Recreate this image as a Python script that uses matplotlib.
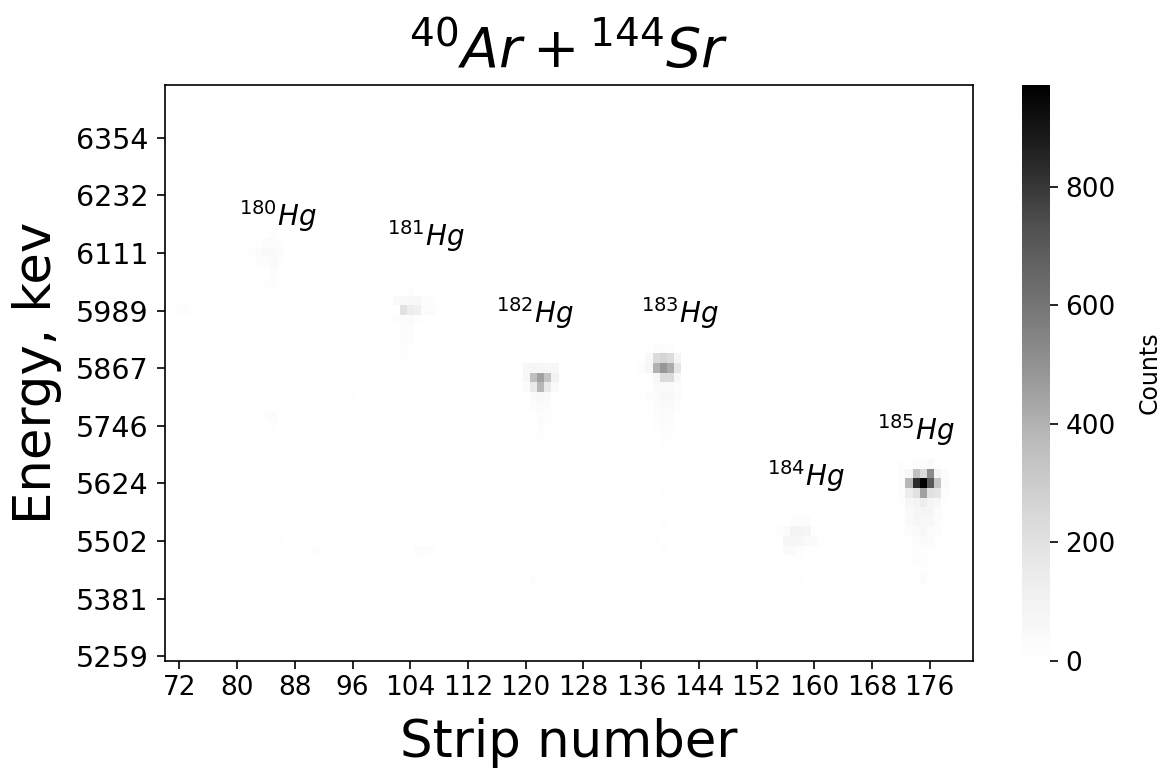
import numpy as np
import matplotlib
matplotlib.use("Agg")
import matplotlib.pyplot as plt

# ---------------- data ----------------
strips = list(range(70, 183))            # strip numbers (columns)
n_rows = 60                              # energy bins
energy_tick_rows = [0, 6, 12, 18, 24, 30, 36, 42, 48, 54]
energy_tick_labels = ["5259", "5381", "5502", "5624", "5746",
                      "5867", "5989", "6111", "6232", "6354"]
strip_ticks = [72, 80, 88, 96, 104, 112, 120, 128, 136, 144, 152, 160, 168, 176]

# blob patches: (first strip, top row, rows of counts from top row downward)
hg180_patch = (82, 44, [
    [0, 0, 0, 15, 0],
    [0, 10, 20, 25, 15],
    [15, 30, 45, 35, 20],
    [0, 15, 20, 40, 15],
    [0, 0, 0, 25, 0],
    [0, 0, 10, 15, 0],
    [0, 0, 10, 10, 0],
])
hg181_patch = (101, 38, [
    [0, 0, 0, 15, 0, 0, 0],
    [0, 40, 40, 50, 50, 20, 15],
    [0, 0, 200, 140, 120, 30, 20],
    [0, 15, 30, 30, 15, 0, 0],
    [0, 0, 20, 20, 0, 0, 0],
    [0, 0, 20, 20, 0, 0, 0],
    [0, 0, 15, 0, 0, 0, 0],
    [0, 0, 10, 10, 0, 0, 0],
    [0, 0, 0, 10, 0, 0, 0],
])
hg182_patch = (120, 31, [
    [0, 0, 10, 0, 0],
    [60, 70, 60, 60, 60],
    [60, 350, 450, 330, 100],
    [30, 150, 380, 150, 40],
    [0, 40, 50, 40, 0],
    [0, 25, 30, 20, 0],
    [0, 0, 20, 15, 0],
    [0, 0, 20, 10, 0],
    [0, 0, 15, 0, 0],
    [0, 0, 10, 0, 0],
    [0, 0, 10, 0, 0],
])
hg183_patch = (136, 32, [
    [0, 0, 20, 20, 15, 0, 0],
    [0, 50, 230, 260, 230, 80, 0],
    [20, 70, 400, 480, 420, 180, 0],
    [0, 0, 60, 230, 230, 60, 0],
    [0, 0, 40, 40, 40, 20, 0],
    [0, 20, 30, 50, 55, 30, 0],
    [0, 0, 25, 35, 30, 15, 0],
    [0, 0, 20, 30, 20, 0, 0],
    [0, 0, 15, 20, 15, 0, 0],
    [0, 0, 0, 15, 10, 0, 0],
    [0, 0, 0, 10, 10, 0, 0],
])
hg184_patch = (155, 14, [
    [0, 0, 20, 25, 20, 0, 0],
    [15, 30, 90, 90, 70, 10, 0],
    [0, 60, 70, 60, 40, 30, 10],
    [0, 40, 40, 15, 10, 10, 0],
    [0, 0, 10, 10, 0, 0, 0],
])
hg185_patch = (171, 20, [
    [0, 15, 10, 25, 25, 40, 10, 0],
    [0, 20, 60, 350, 230, 520, 90, 20],
    [0, 25, 380, 830, 972, 700, 330, 30],
    [0, 20, 140, 200, 450, 200, 180, 20],
    [0, 10, 60, 90, 130, 80, 60, 10],
    [0, 10, 40, 70, 80, 80, 30, 5],
    [0, 5, 40, 60, 60, 60, 20, 5],
    [0, 5, 20, 30, 50, 30, 20, 0],
    [0, 5, 10, 20, 30, 20, 10, 0],
    [0, 0, 10, 15, 15, 10, 0, 0],
    [0, 0, 0, 10, 15, 10, 0, 0],
    [0, 0, 0, 10, 10, 0, 0, 0],
    [0, 0, 0, 0, 10, 0, 0, 0],
])
# scattered faint counts: (strip, row, counts)
faint_cells = [
    (72, 36, 12), (73, 36, 15), (71, 37, 10), (80, 36, 8), (88, 36, 8),
    (84, 25, 15), (85, 25, 20), (85, 24, 15), (84, 23, 10), (85, 22, 10),
    (72, 12, 10), (89, 12, 10), (91, 11, 12), (104, 12, 10), (105, 11, 20),
    (106, 11, 20), (107, 11, 15), (103, 11, 10), (80, 8, 8), (81, 4, 8),
    (121, 8, 12), (122, 7, 10), (122, 10, 8), (139, 17, 10), (139, 14, 12),
    (138, 12, 10), (139, 11, 12), (140, 9, 8), (139, 5, 10), (140, 3, 8),
    (174, 10, 10), (175, 8, 10), (174, 6, 8), (175, 5, 8), (175, 3, 8),
    (158, 8, 8), (158, 4, 8), (151, 36, 8), (165, 36, 8), (169, 35, 10),
    (173, 32, 8), (110, 28, 8), (96, 27, 5), (86, 12, 8), (94, 4, 6),
    (132, 4, 6), (148, 6, 6),
]
hg_labels = ["$^{180}Hg$", "$^{181}Hg$", "$^{182}Hg$",
             "$^{183}Hg$", "$^{184}Hg$", "$^{185}Hg$"]

# ---------------- build matrix ----------------
counts = np.zeros((n_rows, len(strips)))
for s0, top, rows in [hg180_patch, hg181_patch, hg182_patch,
                      hg183_patch, hg184_patch, hg185_patch]:
    for k, row in enumerate(rows):
        for m, v in enumerate(row):
            counts[top - k, strips.index(s0 + m)] += v
for s, r, v in faint_cells:
    counts[r, strips.index(s)] += v

# ---------------- plot ----------------
W, H = 1167, 773
fig = plt.figure(figsize=(W / 100, H / 100), dpi=100)
ax = fig.add_axes([165 / W, 1 - 661 / H, (973 - 165) / W, (661 - 85) / H])
cax = fig.add_axes([1022 / W, 1 - 661 / H, 28 / W, (661 - 85) / H])

im = ax.imshow(counts, origin="lower", cmap="Greys", vmin=0, vmax=972,
               aspect="auto", interpolation="nearest",
               extent=[strips[0] - 0.5, strips[-1] + 0.5, -0.5, n_rows - 0.5])
ax.set_xlim(70.0, 182.0)

ax.set_xticks(strip_ticks)
ax.set_xticklabels([str(t) for t in strip_ticks])
ax.set_yticks(energy_tick_rows)
ax.set_yticklabels(energy_tick_labels)
ax.tick_params(axis="x", labelsize=19, length=6, width=1.2, pad=4)
ax.tick_params(axis="y", labelsize=20.5, length=6, width=1.2, pad=6)
for sp in ax.spines.values():
    sp.set_linewidth(1.2)

ax.set_xlabel("Strip number", fontsize=37, labelpad=12)
ax.set_ylabel("Energy, kev", fontsize=37, labelpad=10)
ax.set_title("$^{40}Ar + ^{144}Sr$", fontsize=40, pad=12)

label_pos = [(85.7, 45.85), (106.1, 43.77), (121.2, 35.75),
             (141.4, 35.75), (158.8, 18.77), (174.0, 23.56)]
for txt, (x, y) in zip(hg_labels, label_pos):
    ax.text(x, y, txt, fontsize=20, ha="center", va="center")

cb = fig.colorbar(im, cax=cax)
cb.set_ticks([0, 200, 400, 600, 800])
cb.ax.tick_params(labelsize=19, length=6, width=1.2, pad=5)
cb.outline.set_visible(False)
cb.set_label("Counts", fontsize=17, labelpad=16)

fig.savefig("out.png", dpi=100)
